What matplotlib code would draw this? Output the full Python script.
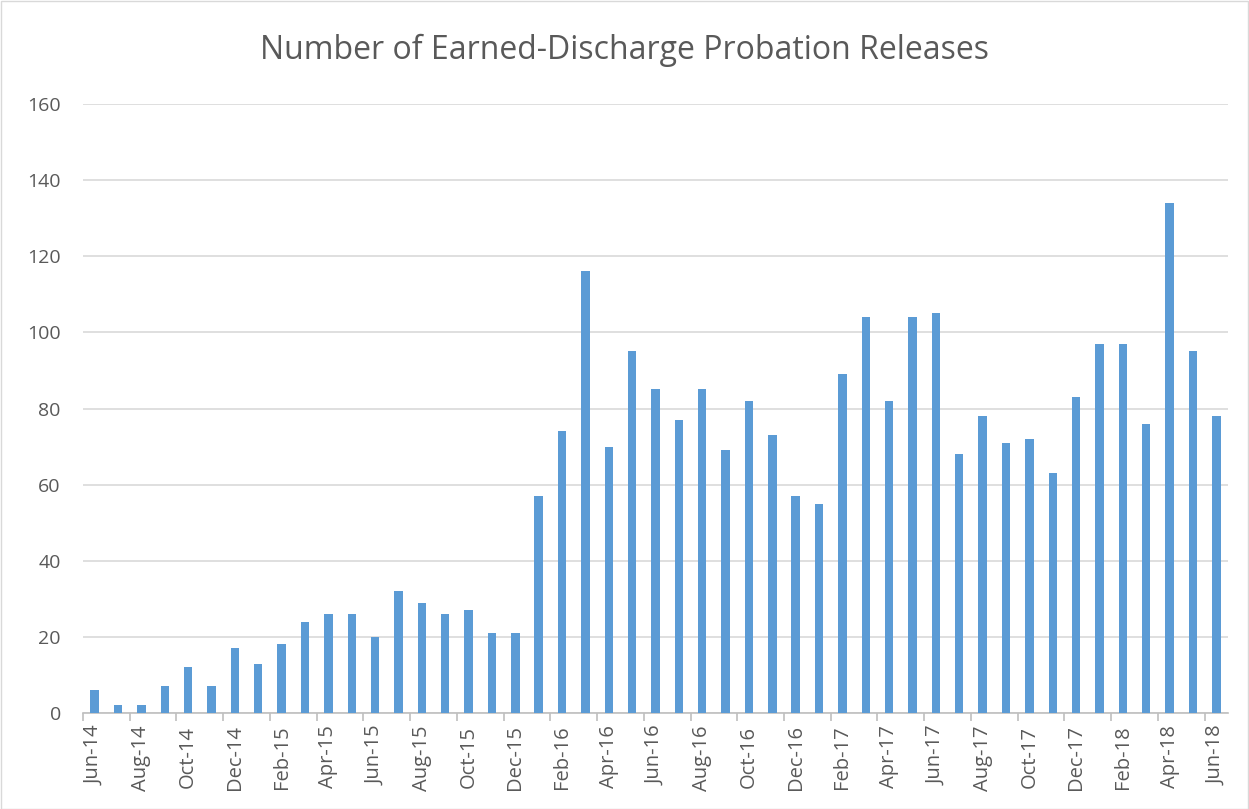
import matplotlib
matplotlib.use("Agg")
import matplotlib.pyplot as plt
from matplotlib.ticker import FixedLocator, MultipleLocator
from matplotlib.patches import Rectangle

months = ["Jun-14","Jul-14","Aug-14","Sep-14","Oct-14","Nov-14","Dec-14",
          "Jan-15","Feb-15","Mar-15","Apr-15","May-15","Jun-15","Jul-15","Aug-15","Sep-15","Oct-15","Nov-15","Dec-15",
          "Jan-16","Feb-16","Mar-16","Apr-16","May-16","Jun-16","Jul-16","Aug-16","Sep-16","Oct-16","Nov-16","Dec-16",
          "Jan-17","Feb-17","Mar-17","Apr-17","May-17","Jun-17","Jul-17","Aug-17","Sep-17","Oct-17","Nov-17","Dec-17",
          "Jan-18","Feb-18","Mar-18","Apr-18","May-18","Jun-18"]
releases = [6, 2, 2, 7, 12, 7, 17,
            13, 18, 24, 26, 26, 20, 32, 29, 26, 27, 21, 21,
            57, 74, 116, 70, 95, 85, 77, 85, 69, 82, 73, 57,
            55, 89, 104, 82, 104, 105, 68, 78, 71, 72, 63, 83,
            97, 97, 76, 134, 95, 78]
title = "Number of Earned-Discharge Probation Releases"

plt.rcParams['font.family'] = ['Open Sans', 'DejaVu Sans']
W, H = 1249, 809
fig = plt.figure(figsize=(W/100, H/100), dpi=100)
fig.patches.append(Rectangle((0.5/W, 0.5/H), 1-1.5/W, 1-1.5/H, transform=fig.transFigure,
                             fill=False, edgecolor='#d9d9d9', linewidth=1))
ax = fig.add_axes([83/W, 1-713/H, (1228-83)/W, (713-104)/H])

x = list(range(len(months)))
ax.bar(x, releases, width=0.36, color='#5b9bd5', zorder=3)
ax.set_xlim(-0.5, len(months)-0.5)
ax.set_ylim(0, 160)
ax.yaxis.set_major_locator(MultipleLocator(20))
ax.grid(axis='y', color='#d9d9d9', linewidth=1.2, zorder=0)
for s in ['top', 'right', 'left']:
    ax.spines[s].set_visible(False)
ax.spines['bottom'].set_color('#bfbfbf')
ax.spines['bottom'].set_linewidth(1.2)

ax.set_xticks(x[::2])
ax.set_xticklabels(months[::2], rotation=90, fontsize=14.5, color='#595959')
ax.tick_params(axis='x', length=0, pad=9)
ax.xaxis.set_minor_locator(FixedLocator([i - 0.5 for i in range(0, len(months)+1, 2)]))
ax.tick_params(axis='x', which='minor', length=6, color='#bfbfbf', width=1.2)
ax.tick_params(axis='y', length=0, labelsize=14, labelcolor='#595959', pad=16)

fig.text(0.5, 1-50/H, title, ha='center', va='center', fontsize=23, color='#595959')
fig.savefig("out.png", dpi=100)
